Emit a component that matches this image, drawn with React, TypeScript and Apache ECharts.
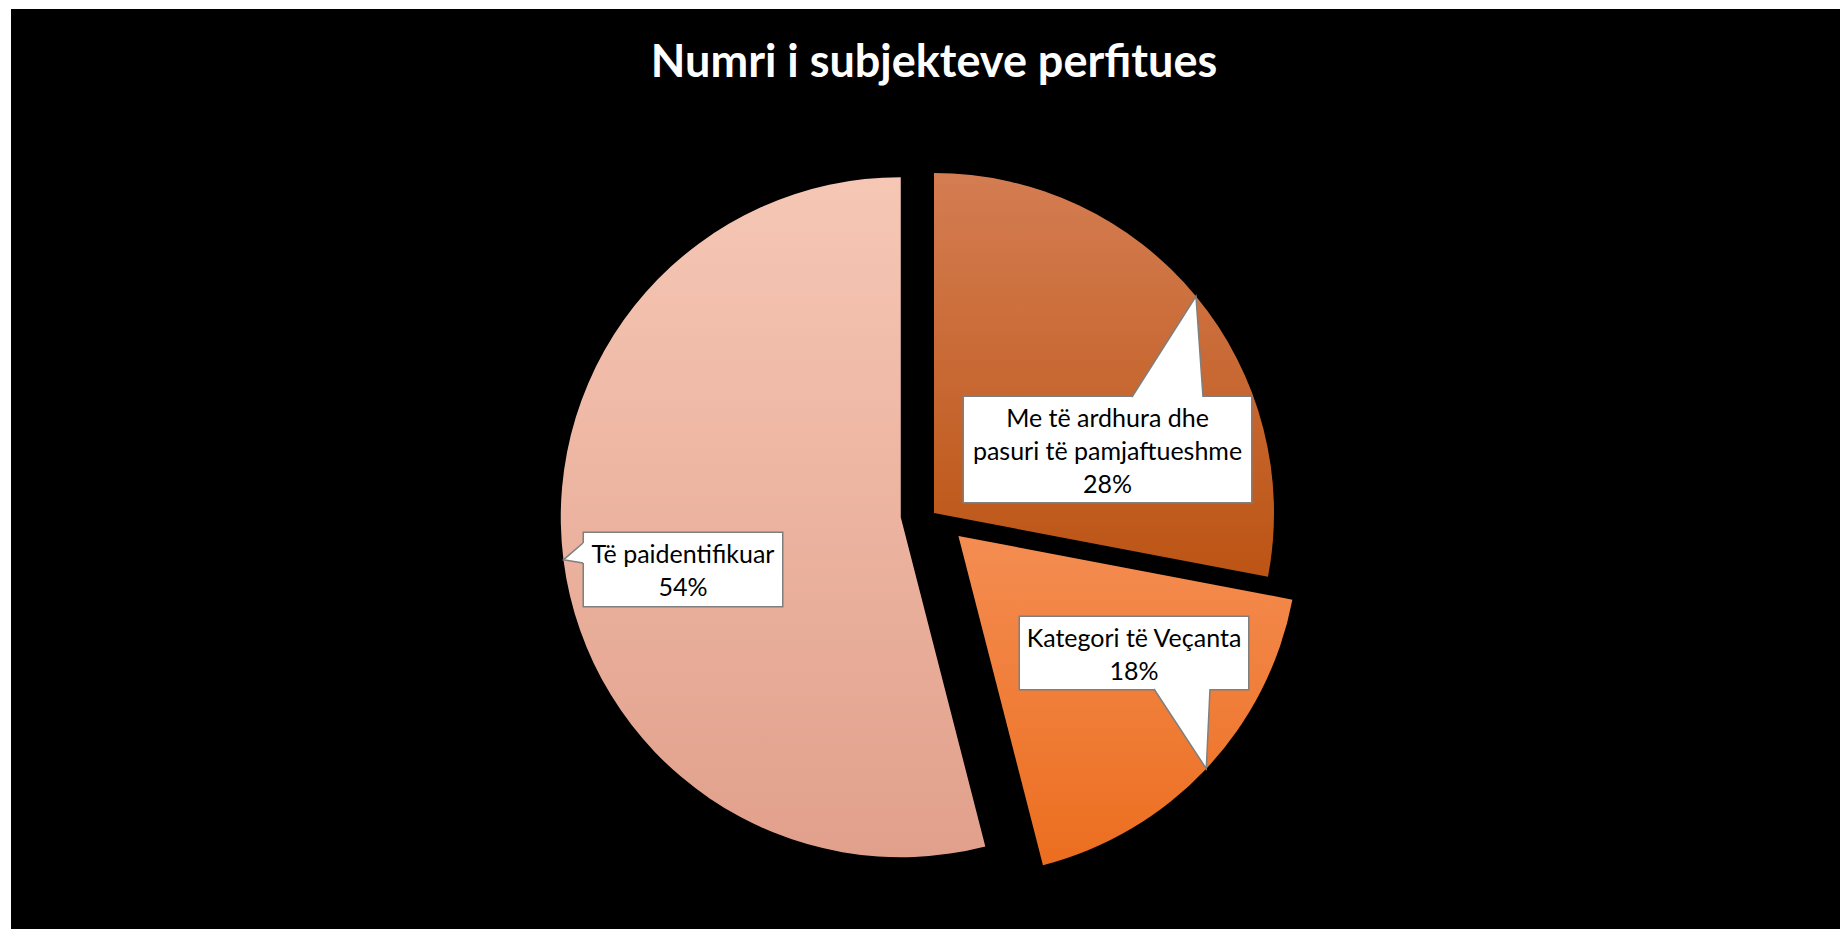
import React, { useEffect, useRef } from "react";
import * as echarts from "echarts";

// ---- data ----
const chartTitle = "Numri i subjekteve perfitues";
const categories = [
  "Me të ardhura dhe pasuri të pamjaftueshme",
  "Kategori të Veçanta",
  "Të paidentifikuar",
];
const values = [28, 18, 54];
const exploded = [false, true, true];

// ---- styling / layout ----
const sliceColors = [
  ["#D47D52", "#BC5414"],
  ["#F48D52", "#EC6E1F"],
  ["#F6C7B5", "#E1A08B"],
];
const PIE_CENTER = [934, 513];
const PIE_RADIUS = 340;
const EXPLODE = 33.5;
const LINE_H = 33;
const FONT = "Lato, 'Noto Sans', sans-serif";

// callout boxes: centre, width, vertical padding, pointer base points, inward direction
const callouts = [
  { cx: 1107.5, cy: 449.5, w: 289, padV: 3, base: [[1132, 397], [1203, 397]], inward: [0, 1] },
  { cx: 1134, cy: 653, w: 230, padV: 3, base: [[1154, 689], [1210, 689]], inward: [0, -1] },
  { cx: 683, cy: 569.5, w: 200, padV: 3.5, base: [[583, 543], [583, 563]], inward: [1, 0] },
];

function grad(c: string[]) {
  return new echarts.graphic.LinearGradient(0, 0, 0, 1, [
    { offset: 0, color: c[0] },
    { offset: 1, color: c[1] },
  ]);
}

export default function App() {
  const ref = useRef<HTMLDivElement>(null);

  useEffect(() => {
    if (!ref.current) return;
    const chart = echarts.init(ref.current, undefined, { renderer: "svg" });

    const total = values.reduce((a, b) => a + b, 0);
    let acc = 0;
    const mids = values.map((v) => {
      const mid = ((acc + v / 2) / total) * Math.PI * 2;
      acc += v;
      return mid;
    });
    const centers = mids.map((m, i) => {
      const d = exploded[i] ? EXPLODE : 0;
      return [PIE_CENTER[0] + d * Math.sin(m), PIE_CENTER[1] - d * Math.cos(m)];
    });
    const tips = mids.map((m, i) => [
      centers[i][0] + PIE_RADIUS * Math.sin(m),
      centers[i][1] - PIE_RADIUS * Math.cos(m),
    ]);

    const pointerGraphics: any[] = [];
    callouts.forEach((c, i) => {
      const [b1, b2] = c.base;
      const tip = tips[i];
      const p1 = [b1[0] + c.inward[0] * 2.5, b1[1] + c.inward[1] * 2.5];
      const p2 = [b2[0] + c.inward[0] * 2.5, b2[1] + c.inward[1] * 2.5];
      pointerGraphics.push({
        type: "polygon",
        z: 100,
        shape: { points: [p1, b1, tip, b2, p2] },
        style: { fill: "#ffffff", stroke: null },
        silent: true,
      });
      pointerGraphics.push({
        type: "polyline",
        z: 101,
        shape: { points: [b1, tip, b2] },
        style: { stroke: "#7f7f7f", lineWidth: 1.5, fill: null },
        silent: true,
      });
    });

    // one pie series per slice so that each slice can be pulled out on its own
    const series = categories.map((_, k) => ({
      type: "pie",
      center: centers[k],
      radius: PIE_RADIUS,
      startAngle: 90,
      clockwise: true,
      silent: true,
      avoidLabelOverlap: false,
      itemStyle: { borderWidth: 0 },
      emphasis: { disabled: true },
      label: {
        show: true,
        position: "inside",
        color: "#000000",
        fontFamily: FONT,
        fontSize: 25,
        lineHeight: LINE_H,
        align: "center",
        overflow: "none",
        backgroundColor: "#ffffff",
        borderColor: "#7f7f7f",
        borderWidth: 1.5,
        formatter: (p: any) =>
          p.name.replace("dhe ", "dhe\n") + "\n" + Math.round(p.percent) + "%",
      },
      labelLine: { show: false },
      labelLayout: (params: any) => {
        const c = callouts[params.dataIndex];
        return { x: c.cx, y: c.cy, align: "center", verticalAlign: "middle" };
      },
      data: categories.map((name, i) => ({
        name,
        value: values[i],
        itemStyle: { color: i === k ? grad(sliceColors[i]) : "rgba(0,0,0,0)" },
        label:
          i === k
            ? { show: true, width: callouts[i].w - 2, padding: [callouts[i].padV, 0] }
            : { show: false },
      })),
    }));

    chart.setOption({
      animation: false,
      backgroundColor: "#ffffff",
      title: {
        text: chartTitle,
        left: 934,
        top: 37,
        padding: 0,
        textAlign: "center",
        textStyle: {
          color: "#ffffff",
          fontFamily: FONT,
          fontWeight: "bold",
          fontSize: 45,
        },
      },
      graphic: [
        {
          type: "rect",
          z: -10,
          shape: { x: 11, y: 9, width: 1829, height: 920 },
          style: { fill: "#000000" },
          silent: true,
        },
        ...pointerGraphics,
      ],
      series,
    });

    return () => chart.dispose();
  }, []);

  return (
    <div
      ref={ref}
      style={{ position: "fixed", left: 0, top: 0, width: 1840, height: 929 }}
    />
  );
}
